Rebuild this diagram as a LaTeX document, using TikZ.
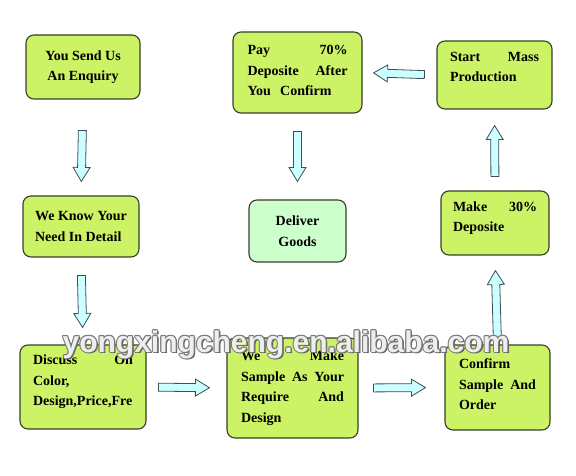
\documentclass[tikz,border=0pt]{standalone}
\usepackage{fontspec}
\setmainfont{Liberation Serif}
\setsansfont{Liberation Sans}
\usetikzlibrary{positioning, calc}
\definecolor{boxgreen}{RGB}{204,242,102}
\definecolor{boxline}{RGB}{55,62,45}
\definecolor{delgreen}{RGB}{204,255,204}
\definecolor{arrcyan}{RGB}{204,255,255}
\definecolor{arrline}{RGB}{60,78,88}
\definecolor{wmgray}{RGB}{120,120,120}
\definecolor{wmshade}{RGB}{90,90,90}
\definecolor{wmfill}{RGB}{238,238,238}
% block arrow between two anchors: from, to, gap at tail, gap at tip
\newcommand{\blockarrow}[4]{%
  \coordinate (t) at ($(#1)!#3!(#2)$);
  \coordinate (p) at ($(#2)!#4!(#1)$);
  \coordinate (h) at ($(p)!14pt!(t)$);
  \draw[barr] ($(t)!4pt!90:(p)$) -- ($(h)!4pt!90:(p)$) -- ($(h)!8.5pt!90:(p)$) -- (p)
    -- ($(h)!8.5pt!-90:(p)$) -- ($(h)!4pt!-90:(p)$) -- ($(t)!4pt!-90:(p)$) -- cycle;}

\begin{document}
\begin{tikzpicture}[x=1pt, y=-1pt,
      gblk/.style={rectangle, draw=boxline, fill=boxgreen, line width=1.1pt, rounded corners=8pt,
                  inner sep=2pt, font=\fontsize{14}{20.5}\selectfont\bfseries},
      dblk/.style={gblk, fill=delgreen},
      barr/.style={draw=arrline, fill=arrcyan, line width=0.8pt, line join=miter},
      wm/.style={font=\sffamily\bfseries\fontsize{30}{30}\selectfont, anchor=base, inner sep=0pt}]
    \useasboundingbox (0,0) rectangle (576,476);
    \node[gblk, minimum width=114pt, minimum height=64pt, align=center] (enq) at (83,67) {You Send Us\\An Enquiry};
    \node[gblk, minimum width=116pt, minimum height=61pt, align=left] (need) at (81,226.5) {We Know Your\\Need In Detail};
    \node[gblk, minimum width=126pt, minimum height=84pt, text width=100pt, align=left, text depth=54pt] (disc) at (83,387)
      {Discuss\hfill On\\Color,\\Design,Price,Fre};
    \node[gblk, minimum width=131pt, minimum height=100pt, text width=103pt, align=left] (make) at (292.5,388)
      {We\hfill Make\\Sample\hfill As\hfill Your\\Require\hfill And\\Design};
    \node[gblk, minimum width=105pt, minimum height=85pt, text width=77pt, align=left, text depth=47pt] (conf) at (497.5,387.5)
      {Confirm\\Sample\hfill And\\Order};
    \node[gblk, minimum width=108pt, minimum height=64pt, text width=84pt, align=left, text depth=33.5pt] (dep) at (495,223)
      {Make\hfill 30\%\\Deposite};
    \node[gblk, minimum width=115pt, minimum height=68pt, text width=89pt, align=left, text depth=36.5pt] (mass) at (494.5,75)
      {Start\hfill Mass\\Production};
    \node[gblk, minimum width=129pt, minimum height=81pt, text width=100pt, align=left, text depth=45pt] (pay) at (297.5,72.5)
      {Pay\hfill 70\%\\Deposite\hfill After\\You~ Confirm};
    \node[dblk, minimum width=97pt, minimum height=62pt, align=center] (deliv) at (297.5,231) {Deliver\\Goods};
    \blockarrow{enq.south}{need.north}{31pt}{14pt}
    \blockarrow{need.south}{disc.north}{18pt}{17pt}
    \blockarrow{disc.east}{make.west}{12pt}{17pt}
    \blockarrow{make.east}{conf.west}{15pt}{19pt}
    \blockarrow{conf.north}{dep.south}{5pt}{15pt}
    \blockarrow{dep.north}{mass.south}{14pt}{16pt}
    \blockarrow{mass.west}{pay.east}{12pt}{11pt}
    \blockarrow{pay.south}{deliv.north}{18pt}{18pt}
    % watermark
    \node[wm, text=wmshade] (wmsh) at (287.6,353.6) {yongxingcheng.en.alibaba.com};
    \foreach \a [count=\i] in {0,45,...,315}
      \node[wm, text=wmgray] (wms\i) at ($(286,352)+(\a:1pt)$) {yongxingcheng.en.alibaba.com};
    \node[wm, text=wmfill] (wmark) at (286,352) {yongxingcheng.en.alibaba.com};
  \end{tikzpicture}
\end{document}
